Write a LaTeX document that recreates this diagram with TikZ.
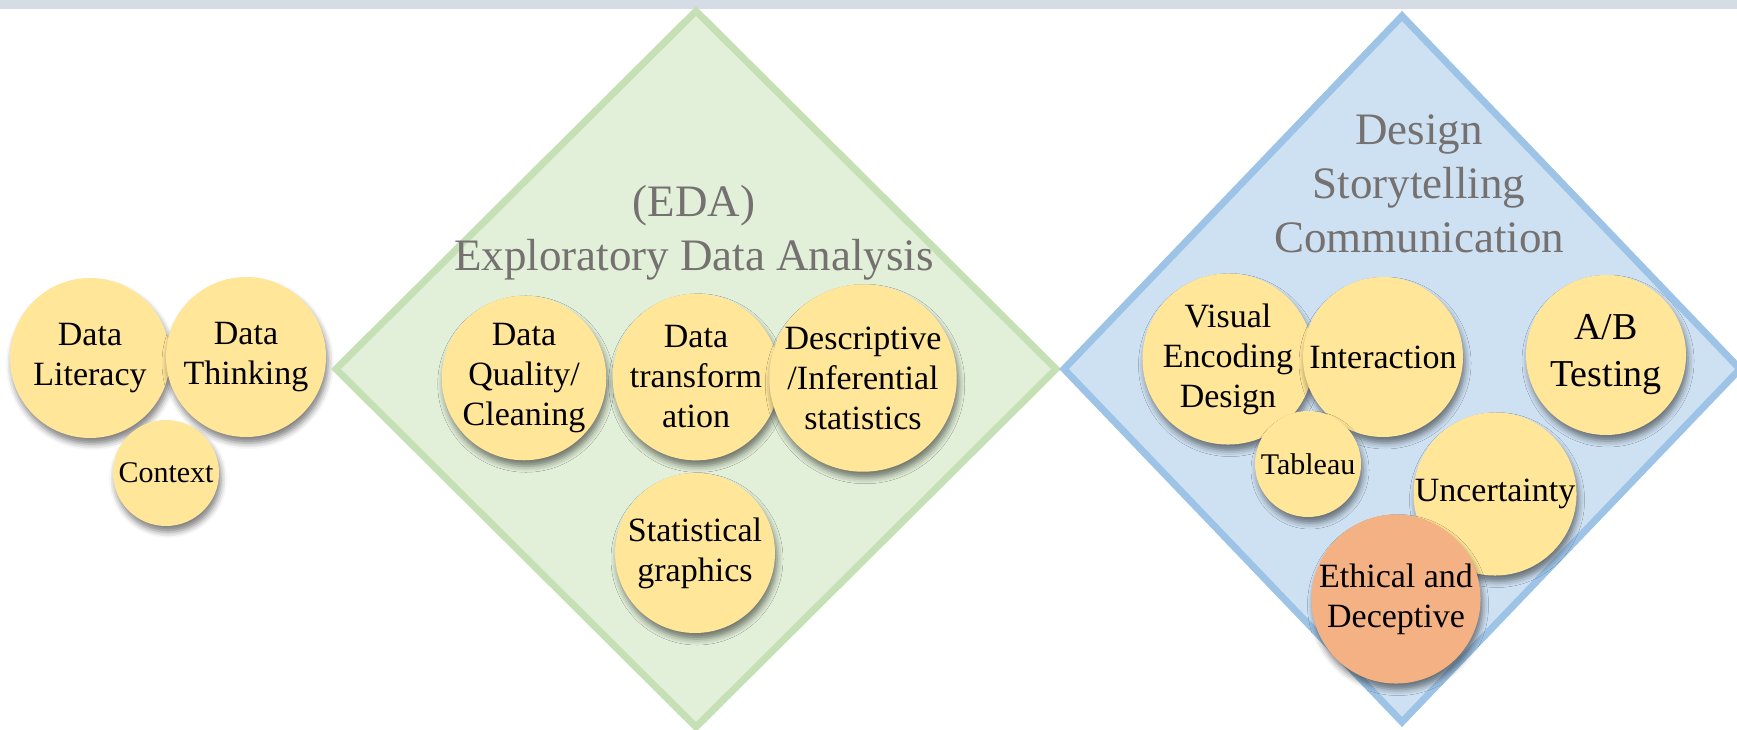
\documentclass[tikz,border=0pt]{standalone}
\usepackage{fontspec}
\setmainfont{Liberation Serif}
\usetikzlibrary{shadows.blur}
\definecolor{bubble}{HTML}{FFE699}
\definecolor{ethic}{HTML}{F4B183}
\definecolor{edaline}{HTML}{C5E0B4}
\definecolor{dsnline}{HTML}{9DC3E6}
\definecolor{titlegray}{HTML}{767171}
\definecolor{topband}{HTML}{D6DCE5}

\begin{document}
\begin{tikzpicture}[x=1pt,y=-1pt,
  bub/.style={circle,fill=bubble,inner sep=0pt,minimum size=160pt,align=center,
    font=\rmfamily\fontsize{34}{40}\selectfont,
    blur shadow={shadow xshift=2pt,shadow yshift=-6pt,shadow blur radius=6pt,shadow opacity=50}},
  smallbub/.style={bub,minimum size=106pt,font=\rmfamily\fontsize{30}{36}\selectfont},
  ttl/.style={text=titlegray,align=center,inner sep=0pt,font=\rmfamily\fontsize{45}{54}\selectfont},
  diam/.style={line width=7pt,line join=miter}]
\useasboundingbox (0,0) rectangle (1737,730);
\clip (0,0) rectangle (1737,730);
\fill[topband] (0,0) rectangle (1737,9);

\begin{scope}
\node[bub] (literacy) at (90,358) {Data\\Literacy};
\node[bub] (thinking) at (246,357) {Data\\Thinking};
\node[smallbub] (context) at (166,473) {Context};
\end{scope}

\begin{scope}[shift={(696,369)}]
\draw[diam,draw=edaline,fill=edaline!50] (0,-358) -- (360,0) -- (0,358) -- (-360,0) -- cycle;
\node[ttl] (edatitle) at (-2,-136) {(EDA)\\Exploratory Data Analysis};
\node[bub] (quality) at (-172,9) {Data\\Quality/\\Cleaning};
\node[bub] (transform) at (0,8) {Data\\transform\\ation};
\node[bub] (descriptive) at (167,9) {Descriptive\\/Inferential\\statistics};
\node[bub] (graphics) at (-1,184) {Statistical\\graphics};
\end{scope}

\begin{scope}[shift={(1402,369)}]
\draw[diam,draw=dsnline,fill=dsnline!50] (0,-353) -- (338,0) -- (0,353) -- (-338,0) -- cycle;
\node[ttl] (dsntitle) at (17,-185) {Design\\Storytelling\\Communication};
\node[bub] (visual) at (-174,-10) {Visual\\Encoding\\Design};
\node[bub] (interaction) at (-19,-12) {Interaction};
\node[bub,font=\rmfamily\fontsize{38}{47}\selectfont] (abtest) at (204,-14) {A/B\\Testing};
\node[smallbub] (tableau) at (-94,95) {Tableau};
\node[bub] (uncertainty) at (93,125) {Uncertainty};
\node[bub,fill=ethic] (ethical) at (-6,230) {Ethical and\\Deceptive};
\end{scope}

\end{tikzpicture}
\end{document}
